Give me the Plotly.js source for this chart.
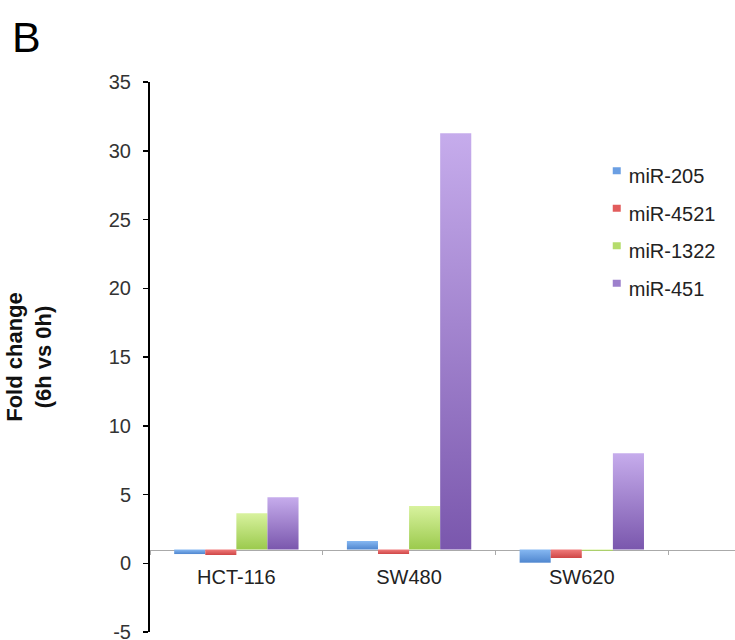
<!DOCTYPE html>
<html>
<head>
<meta charset="utf-8">
<script src="https://cdn.plot.ly/plotly-3.0.1.min.js"></script>
<style>html,body{margin:0;padding:0;background:#fff;}#chart{width:735px;height:640px;}</style>
</head>
<body>
<div id="chart"></div>
<script>
const categories = ["HCT-116", "SW480", "SW620"];
const seriesNames = ["miR-205", "miR-4521", "miR-1322", "miR-451"];
const miR205 = [0.67, 1.62, 0.04];
const miR4521 = [0.60, 0.67, 0.38];
const miR1322 = [3.63, 4.16, 0.90];
const miR451 = [4.80, 31.27, 8.00];
const baseline = 1;
const yTicks = [-5, 0, 5, 10, 15, 20, 25, 30, 35];

const seriesValues = [miR205, miR4521, miR1322, miR451];
const colors = ["#6b9fe3", "#e25c5c", "#b5dc6c", "#9d80cc"];
const gradTop = ["#86b8f2", "#f07c7c", "#d8f29e", "#c6acec"];
const gradBot = ["#4f86cf", "#cf4646", "#9bca4d", "#7a57ad"];

const traces = seriesValues.map((vals, i) => ({
  type: "bar",
  name: seriesNames[i],
  x: categories,
  y: vals.map(v => v - baseline),
  base: baseline,
  marker: { color: colors[i], line: { width: 0 } },
  legendgroup: "g" + i,
  hoverinfo: "skip"
}));

const font = "Liberation Sans, Arial, Helvetica, sans-serif";
const layout = {
  width: 735, height: 640,
  margin: { l: 150, r: 0, t: 82, b: 8 },
  paper_bgcolor: "#fff", plot_bgcolor: "#fff",
  barmode: "group", bargap: 0.28, bargroupgap: 0,
  showlegend: true,
  legend: {
    x: 0.75, y: 0.866, xanchor: "left", yanchor: "top",
    font: { family: font, size: 20, color: "#222" },
    tracegroupgap: 8.5, itemwidth: 30, bgcolor: "rgba(0,0,0,0)"
  },
  xaxis: {
    type: "category",
    range: [-0.5, 2.887],
    anchor: "free", position: 0.15,
    layer: "below traces",
    showline: true, linecolor: "#aaaaaa", linewidth: 1.5,
    ticks: "outside", tickson: "boundaries", ticklen: 4, tickcolor: "#aaaaaa",
    ticklabelstandoff: 9,
    tickfont: { family: font, size: 20, color: "#222" },
    showgrid: false, zeroline: false, fixedrange: true
  },
  yaxis: {
    range: [-5, 35],
    tickvals: yTicks,
    ticktext: yTicks.map(String),
    showline: true, linecolor: "#000", linewidth: 2,
    ticks: "outside", ticklen: 5, tickcolor: "#000", tickwidth: 1.5,
    ticklabelstandoff: 8,
    ticklabeloverflow: "allow",
    tickfont: { family: font, size: 20, color: "#333" },
    showgrid: false, zeroline: false,
    title: { text: "<b>Fold change<br>(6h vs 0h)</b>", font: { family: font, size: 22, color: "#111" }, standoff: 51 },
    automargin: false
  },
  annotations: [{
    text: "B", xref: "paper", yref: "paper", x: -0.24, y: 1.082,
    xanchor: "left", yanchor: "middle", showarrow: false,
    font: { family: font, size: 43, color: "#000" }
  }]
};

Plotly.newPlot("chart", traces, layout, { staticPlot: true }).then(() => {
  const svg = document.querySelector("#chart .main-svg");
  const ns = "http://www.w3.org/2000/svg";
  let defs = svg.querySelector("defs");
  if (!defs) { defs = document.createElementNS(ns, "defs"); svg.insertBefore(defs, svg.firstChild); }
  gradTop.forEach((c, i) => {
    const g = document.createElementNS(ns, "linearGradient");
    g.setAttribute("id", "barGrad" + i);
    g.setAttribute("x1", "0"); g.setAttribute("y1", "0");
    g.setAttribute("x2", "0"); g.setAttribute("y2", "1");
    [[0, c], [1, gradBot[i]]].forEach(([o, col]) => {
      const s = document.createElementNS(ns, "stop");
      s.setAttribute("offset", o); s.setAttribute("stop-color", col);
      g.appendChild(s);
    });
    defs.appendChild(g);
  });
  document.querySelectorAll("#chart .barlayer .trace.bars").forEach((tr, i) => {
    tr.querySelectorAll("path").forEach(p => { p.style.fill = "url(#barGrad" + i + ")"; });
  });
  // small legend swatches, placed like the reference (top-left of label)
  document.querySelectorAll("#chart .legend .legendpoints path").forEach(p => {
    p.setAttribute("d", "M4,-8H12V-1H4Z");
  });
});
</script>
</body>
</html>
